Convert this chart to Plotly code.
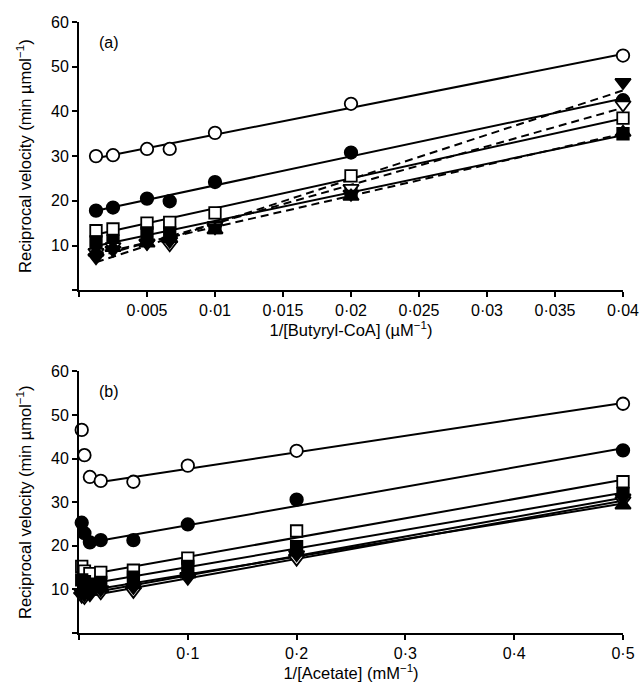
import numpy as np
import plotly.graph_objects as go
from plotly.subplots import make_subplots

# ---- Data: panel (a) 1/[Butyryl-CoA] (uM^-1) ----
xa = [0.00125, 0.0025, 0.005, 0.00667, 0.01, 0.02, 0.04]
a_open_circle = [30.0, 30.2, 31.6, 31.6, 35.2, 41.7, 52.5]
a_filled_circle = [17.8, 18.5, 20.5, 19.9, 24.2, 30.8, 42.5]
a_open_square = [13.3, 13.7, 15.0, 15.2, 17.3, 25.6, 38.5]
a_filled_square = [10.8, 11.0, 12.8, 12.8, 14.0, 22.0, 35.0]
a_open_tri_down = [8.5, 9.8, 10.6, 10.2, 14.5, 22.8, 41.5]
a_filled_tri_down = [7.3, 9.0, 10.5, 11.0, 14.0, 21.5, 46.5]
a_filled_tri_up = [8.5, 9.5, 10.5, 11.5, 13.5, 21.0, 35.3]

# ---- Data: panel (b) 1/[Acetate] (mM^-1) ----
xb = [0.0025, 0.005, 0.01, 0.02, 0.05, 0.1, 0.2, 0.5]
b_open_circle = [46.6, 40.8, 35.8, 34.9, 34.7, 38.4, 41.8, 52.6]
b_filled_circle = [25.3, 22.9, 20.8, 21.3, 21.3, 24.9, 30.6, 41.9]
b_open_square = [15.3, 14.2, 13.6, 13.9, 14.4, 17.2, 23.4, 34.7]
b_filled_square = [12.2, 11.8, 11.2, 11.6, 12.8, 15.3, 19.8, 32.0]
b_open_tri_down = [8.5, 8.2, 8.8, 9.3, 9.6, 12.6, 17.0, 30.4]
b_filled_tri_down = [9.3, 8.8, 9.2, 10.0, 10.5, 13.0, 18.0, 31.0]
b_filled_tri_up = [9.8, 9.3, 9.5, 10.2, 11.0, 13.5, 18.6, 29.3]

# tick labels
xa_ticks = [0, 0.005, 0.01, 0.015, 0.02, 0.025, 0.03, 0.035, 0.04]
xa_labels = ["", "0·005", "0·01", "0·015", "0·02", "0·025", "0·03", "0·035", "0·04"]
xb_ticks = [0, 0.1, 0.2, 0.3, 0.4, 0.5]
xb_labels = ["", "0·1", "0·2", "0·3", "0·4", "0·5"]
y_ticks = [0, 10, 20, 30, 40, 50, 60]
y_labels = ["", "10", "20", "30", "40", "50", "60"]

FONT = "Liberation Sans, Arial, sans-serif"

series_a = [
    (a_open_circle, "circle", "white", "solid"),
    (a_filled_circle, "circle", "black", "solid"),
    (a_open_square, "square", "white", "solid"),
    (a_filled_square, "square", "black", "solid"),
    (a_open_tri_down, "triangle-down", "white", "8px,5px"),
    (a_filled_tri_down, "triangle-down", "black", "8px,5px"),
    (a_filled_tri_up, "triangle-up", "black", "8px,5px"),
]
series_b = [
    (b_open_circle, "circle", "white", 3),
    (b_filled_circle, "circle", "black", 3),
    (b_open_square, "square", "white", 2),
    (b_filled_square, "square", "black", 2),
    (b_open_tri_down, "triangle-down", "white", 2),
    (b_filled_tri_down, "triangle-down", "black", 2),
    (b_filled_tri_up, "triangle-up", "black", 2),
]

fig = make_subplots(rows=2, cols=1)

def msize(sym):
    return 12.5 if sym == "circle" else (11.5 if sym == "square" else 13.5)

for ys, sym, fill, dash in series_a:
    x = np.array(xa)
    y = np.array(ys)
    p = np.polyfit(x, y, 1)
    xl = np.array([x[0], x[-1]])
    fig.add_trace(go.Scatter(x=xl, y=np.polyval(p, xl), mode="lines",
                             line=dict(color="black", width=2, dash=dash),
                             showlegend=False, hoverinfo="skip"), row=1, col=1)
for ys, sym, fill, st in series_b:
    x = np.array(xb)
    y = np.array(ys)
    p = np.polyfit(x[st:], y[st:], 1)
    xl = np.array([x[st], x[-1]])
    fig.add_trace(go.Scatter(x=xl, y=np.polyval(p, xl), mode="lines",
                             line=dict(color="black", width=2),
                             showlegend=False, hoverinfo="skip"), row=2, col=1)

for ys, sym, fill, _ in series_a:
    fig.add_trace(go.Scatter(x=xa, y=ys, mode="markers", cliponaxis=False,
                             marker=dict(symbol=sym, size=msize(sym), color=fill,
                                         line=dict(color="black", width=1.8)),
                             showlegend=False), row=1, col=1)
for ys, sym, fill, _ in series_b:
    fig.add_trace(go.Scatter(x=xb, y=ys, mode="markers", cliponaxis=False,
                             marker=dict(symbol=sym, size=msize(sym), color=fill,
                                         line=dict(color="black", width=1.8)),
                             showlegend=False), row=2, col=1)

axis_common = dict(showline=True, linecolor="black", linewidth=2, ticks="outside",
                   ticklen=5, tickwidth=2, tickcolor="black", showgrid=False,
                   zeroline=False, automargin=False,
                   tickfont=dict(family=FONT, size=16, color="black"))
title_font = dict(family=FONT, size=16.5, color="black")

fig.update_xaxes(range=[0, 0.04], tickvals=xa_ticks, ticktext=xa_labels,
                 domain=[0, 1],
                 title=dict(text="1/[Butyryl-CoA] (µM<sup>−1</sup>)", standoff=4, font=title_font),
                 **axis_common, row=1, col=1)
fig.update_xaxes(range=[0, 0.5], tickvals=xb_ticks, ticktext=xb_labels,
                 domain=[0, 1],
                 title=dict(text="1/[Acetate] (mM<sup>−1</sup>)", standoff=4, font=title_font),
                 **axis_common, row=2, col=1)
fig.update_yaxes(range=[0, 60], tickvals=y_ticks, ticktext=y_labels, domain=[0.561, 1.0],
                 title=dict(text="Reciprocal velocity (min µmol<sup>−1</sup>)", standoff=15, font=title_font),
                 **axis_common, row=1, col=1)
fig.update_yaxes(range=[0, 60], tickvals=y_ticks, ticktext=y_labels, domain=[0.0, 0.428],
                 title=dict(text="Reciprocal velocity (min µmol<sup>−1</sup>)", standoff=15, font=title_font),
                 **axis_common, row=2, col=1)

fig.add_annotation(text="(a)", x=0.0022, y=55.5, xref="x", yref="y", showarrow=False,
                   font=dict(family=FONT, size=16, color="black"))
fig.add_annotation(text="(b)", x=0.0275, y=55.5, xref="x2", yref="y2", showarrow=False,
                   font=dict(family=FONT, size=16, color="black"))

fig.update_layout(width=644, height=695, plot_bgcolor="white", paper_bgcolor="white",
                  margin=dict(l=79, r=21, t=22, b=62, autoexpand=False), showlegend=False)

# remove the default page margin so the figure sits at the window origin
fig.write_html("out.html", config={"displayModeBar": False},
               post_script="document.body.style.margin='0';document.body.style.overflow='hidden';")
